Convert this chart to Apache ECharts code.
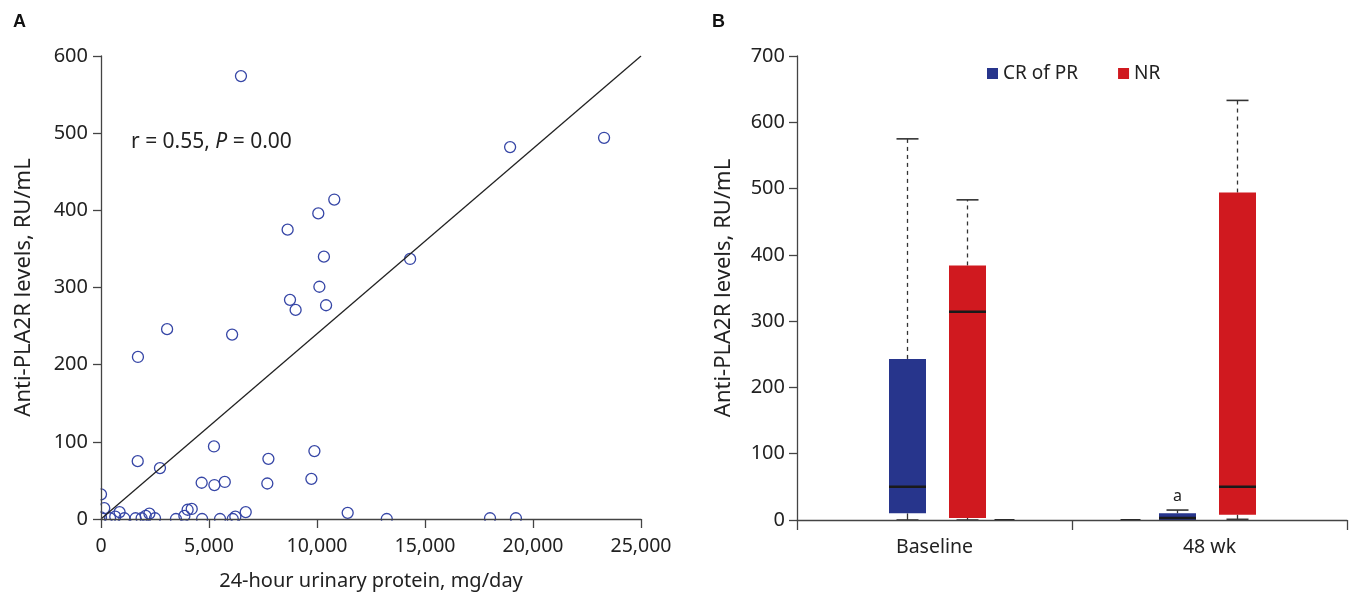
<!DOCTYPE html>
<html>
<head>
<meta charset="utf-8">
<script src="https://cdn.jsdelivr.net/npm/echarts@6/dist/echarts.min.js"></script>
<style>
html,body{margin:0;padding:0;background:#fff;}
#chart{width:1349px;height:596px;}
</style>
</head>
<body>
<div id="chart"></div>
<script>
// ---------- Panel A data: 24-hour urinary protein (mg/day) vs anti-PLA2R (RU/mL)
const scatterPoints = [
  [6480, 574], [23290, 494], [18940, 482], [10800, 414], [10060, 396], [8640, 375],
  [14310, 337], [10320, 340], [10110, 301], [8750, 284], [10420, 277], [9010, 271],
  [3060, 246], [6070, 239], [1710, 210],
  [1700, 75], [2730, 66], [5230, 94], [9880, 88], [7750, 78],
  [4660, 47], [5250, 44], [5730, 48], [7700, 46], [9740, 52],
  [11420, 8], [0, 32], [150, 14], [860, 9], [660, 3], [2240, 7], [2070, 4],
  [4010, 12], [4200, 13], [3860, 4], [6700, 9], [6220, 3], [6100, 0],
  [420, 1], [1080, 1], [1600, 1], [1880, 1], [2500, 1], [3470, 0], [4680, 0],
  [5510, 0], [13230, 0], [18010, 1], [19210, 1], [0, 2]
];
const fitLine = [[0, 0], [25000, 600]];
const corrText = { r: '0.55', p: '0.00' };

// ---------- Panel B data: box summaries [category, min, q1, median, q3, max]
const categoriesB = ['Baseline', '48 wk'];
const crBoxes = [
  [0, 0, 10, 50, 243, 575],
  [1, 0, 0, 3, 10, 15]
];
const nrBoxes = [
  [0, 0, 3, 314, 384, 483],
  [1, 1, 8, 50, 494, 633]
];
const emptyBoxes = [
  [0, 0, 0, 0, 0, 0],
  [1, 0, 0, 0, 0, 0]
];
const crMarks = ['', 'a'];
const seriesNames = ['CR of PR', 'NR'];

// ---------- layout / style (not data)
const BLUE = '#27358c';
const RED = '#d0191f';
const FONT = 'Noto Sans';
const boxOffsets = { cr: [-27, -32], nr: [33, 28], empty: [70, -79] };
const BOX_W = 37, CAP_W = 22;

function makeBoxRenderer(key, color, marks) {
  return function (params, api) {
    const cat = api.value(0);
    const mn = api.value(1), q1 = api.value(2), med = api.value(3), q3 = api.value(4), mx = api.value(5);
    const cx = api.coord([cat, 0])[0] + boxOffsets[key][params.dataIndex];
    const y = v => api.coord([cat, v])[1];
    const children = [];
    if (key === 'empty') {
      children.push({ type: 'line', shape: { x1: cx - 10, y1: y(0), x2: cx + 10, y2: y(0) },
        style: { stroke: '#222', lineWidth: 2 } });
      return { type: 'group', children };
    }
    children.push({ type: 'line', shape: { x1: cx, y1: y(q3), x2: cx, y2: y(mx) },
      style: { stroke: '#333', lineWidth: 1.3, lineDash: [4, 4] } });
    children.push({ type: 'line', shape: { x1: cx - CAP_W / 2, y1: y(mx), x2: cx + CAP_W / 2, y2: y(mx) },
      style: { stroke: '#333', lineWidth: 1.6 } });
    children.push({ type: 'line', shape: { x1: cx, y1: y(q1), x2: cx, y2: y(mn) },
      style: { stroke: '#333', lineWidth: 1.3 } });
    children.push({ type: 'line', shape: { x1: cx - CAP_W / 2, y1: y(mn), x2: cx + CAP_W / 2, y2: y(mn) },
      style: { stroke: '#333', lineWidth: 1.6 } });
    children.push({ type: 'rect', shape: { x: cx - BOX_W / 2, y: y(q3), width: BOX_W, height: y(q1) - y(q3) },
      style: { fill: color } });
    children.push({ type: 'line', shape: { x1: cx - BOX_W / 2, y1: y(med), x2: cx + BOX_W / 2, y2: y(med) },
      style: { stroke: '#1a1a1a', lineWidth: 2.5 } });
    if (marks && marks[params.dataIndex]) {
      children.push({ type: 'text', x: cx, y: y(mx) - 6,
        style: { text: marks[params.dataIndex], fill: '#222', font: '16px "' + FONT + '"', align: 'center', verticalAlign: 'bottom' } });
    }
    return { type: 'group', children };
  };
}

const axisLineStyle = { color: '#444', width: 1.3 };
const chart = echarts.init(document.getElementById('chart'));
chart.setOption({
  animation: false,
  textStyle: { fontFamily: FONT },
  grid: [
    { left: 101, top: 56, width: 540, height: 464 },
    { left: 797, top: 56, width: 550, height: 464 }
  ],
  xAxis: [
    {
      gridIndex: 0, type: 'value', min: 0, max: 25000, interval: 5000, z: 10,
      name: '24-hour urinary protein, mg/day', nameLocation: 'middle', nameGap: 52,
      nameTextStyle: { fontSize: 20, color: '#222', fontFamily: FONT },
      axisLine: { show: true, lineStyle: axisLineStyle },
      axisTick: { show: true, length: 9, lineStyle: axisLineStyle },
      axisLabel: { fontSize: 19.5, color: '#222', margin: 17, fontFamily: FONT,
        formatter: v => v.toLocaleString('en-US') },
      splitLine: { show: false }
    },
    {
      gridIndex: 1, type: 'category', data: categoriesB, z: 10,
      axisLine: { show: true, lineStyle: axisLineStyle },
      axisTick: { show: true, length: 10, lineStyle: axisLineStyle },
      axisLabel: { fontSize: 19.5, color: '#222', margin: 17, fontFamily: FONT },
      splitLine: { show: false }
    }
  ],
  yAxis: [
    {
      gridIndex: 0, type: 'value', min: 0, max: 600, interval: 100, z: 10,
      name: 'Anti-PLA2R levels, RU/mL', nameLocation: 'middle', nameGap: 66,
      nameTextStyle: { fontSize: 22, color: '#222', fontFamily: FONT },
      axisLine: { show: true, lineStyle: axisLineStyle },
      axisTick: { show: true, length: 8, lineStyle: axisLineStyle },
      axisLabel: { fontSize: 20, color: '#222', margin: 13, fontFamily: FONT },
      splitLine: { show: false }
    },
    {
      gridIndex: 1, type: 'value', min: 0, max: 700, interval: 100, z: 10,
      name: 'Anti-PLA2R levels, RU/mL', nameLocation: 'middle', nameGap: 62,
      nameTextStyle: { fontSize: 22, color: '#222', fontFamily: FONT },
      axisLine: { show: true, lineStyle: axisLineStyle },
      axisTick: { show: true, length: 8, lineStyle: axisLineStyle },
      axisLabel: { fontSize: 20, color: '#222', margin: 12, fontFamily: FONT },
      splitLine: { show: false }
    }
  ],
  legend: {
    data: seriesNames, left: 982, top: 59, icon: 'rect', itemWidth: 11, itemHeight: 11, itemGap: 40,
    textStyle: { fontSize: 19, color: '#222', fontFamily: FONT }
  },
  graphic: [
    { type: 'text', left: 13, top: 13, style: { text: 'A', font: 'bold 18px "Liberation Sans"', fill: '#111' } },
    { type: 'text', left: 712, top: 13, style: { text: 'B', font: 'bold 18px "Liberation Sans"', fill: '#111' } },
    { type: 'text', left: 131, top: 132, style: {
        text: '{n|r = ' + corrText.r + ', }{i|P}{n| = ' + corrText.p + '}',
        rich: { n: { fontSize: 21, fontFamily: FONT, fill: '#222' },
                i: { fontSize: 21, fontFamily: FONT, fontStyle: 'italic', fill: '#222' } } } },
    { type: 'rect', z: 5, silent: true, shape: { x: 85, y: 520.7, width: 570, height: 12 }, style: { fill: '#fff' } },
    { type: 'rect', z: 5, silent: true, shape: { x: 91, y: 40, width: 9.5, height: 481 }, style: { fill: '#fff' } }
  ],
  series: [
    {
      type: 'scatter', xAxisIndex: 0, yAxisIndex: 0, data: scatterPoints, clip: false,
      symbol: 'circle', symbolSize: 11, z: 2,
      itemStyle: { color: 'rgba(255,255,255,0)', borderColor: '#3646a6', borderWidth: 1.3, opacity: 1 }
    },
    {
      type: 'line', xAxisIndex: 0, yAxisIndex: 0, data: fitLine, showSymbol: false, symbol: 'none', z: 3,
      lineStyle: { color: '#222', width: 1.3 }
    },
    {
      name: seriesNames[0], type: 'custom', xAxisIndex: 1, yAxisIndex: 1, data: crBoxes,
      itemStyle: { color: BLUE }, renderItem: makeBoxRenderer('cr', BLUE, crMarks)
    },
    {
      name: seriesNames[1], type: 'custom', xAxisIndex: 1, yAxisIndex: 1, data: nrBoxes,
      itemStyle: { color: RED }, renderItem: makeBoxRenderer('nr', RED, null)
    },
    {
      name: 'empty', type: 'custom', xAxisIndex: 1, yAxisIndex: 1, data: emptyBoxes,
      itemStyle: { color: '#222' }, renderItem: makeBoxRenderer('empty', '#222', null)
    }
  ]
});
</script>
</body>
</html>
